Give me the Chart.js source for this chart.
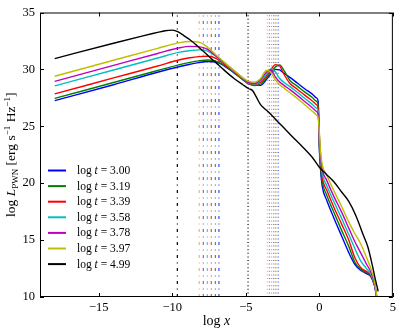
<!DOCTYPE html>
<html><head><meta charset="utf-8">
<script src="https://cdn.jsdelivr.net/npm/chart.js@4/dist/chart.umd.min.js"></script>
<style>html,body{margin:0;padding:0;background:#fff}</style>
</head><body>
<canvas id="c" width="399" height="332" style="width:399px;height:332px;display:block"></canvas>
<script>
const xTicks = [-15, -10, -5, 0, 5];
const yTicks = [10, 15, 20, 25, 30, 35];
const tLabels = ['3.00', '3.19', '3.39', '3.58', '3.78', '3.97', '4.99'];
const seriesColors = ['#0000ff', '#008000', '#ff0000', '#00bfbf', '#bf00bf', '#bfbf00', '#000000'];
const vlineColors = ['rgba(0,0,255,0.75)', 'rgba(0,128,0,0.75)', 'rgba(255,0,0,0.75)', 'rgba(0,191,191,0.75)', 'rgba(191,0,191,0.75)', 'rgba(191,191,0,0.75)', '#000000'];

// shared log x grid for the colored curves
const xGrid = [-18, -14, -11, -9.5, -8.8, -8.2, -7.6, -7.0, -6.4, -5.8, -5.2, -4.8, -4.4, -4.0, -3.6, -3.3, -3.0, -2.7, -2.4, -2.0, -1.5, -1.0, -0.5, -0.2, -0.08, 0.0, 0.08, 0.2, 0.5, 1.0, 1.5, 2.0, 2.4, 2.8, 3.2, 3.5, 3.75, 3.95];
const yT300 = [27.25, 28.65, 29.75, 30.25, 30.45, 30.6, 30.7, 30.65, 30.25, 29.7, 29.1, 28.75, 28.6, 28.6, 29.1, 29.6, 30.0, 29.95, 29.65, 29.3, 28.8, 28.3, 27.85, 27.5, 27.2, 23.0, 21.2, 19.7, 18.5, 16.9, 15.4, 13.9, 12.9, 12.35, 12.05, 11.8, 11.0, 9.6];
const yT319 = [27.45, 28.85, 29.9, 30.42, 30.62, 30.75, 30.82, 30.7, 30.3, 29.72, 29.1, 28.72, 28.58, 28.72, 29.25, 29.75, 30.2, 30.4, 29.9, 29.03, 28.53, 28.02, 27.55, 27.2, 26.9, 23.3, 21.5, 20.1, 18.95, 17.4, 15.9, 14.45, 13.1, 12.45, 12.15, 11.85, 11.05, 9.6];
const yT339 = [27.85, 29.25, 30.3, 30.85, 31.02, 31.12, 31.15, 30.95, 30.4, 29.78, 29.15, 28.75, 28.68, 28.88, 29.42, 29.95, 30.42, 30.3, 29.55, 28.76, 28.26, 27.74, 27.25, 26.9, 26.6, 23.6, 21.85, 20.45, 19.4, 17.85, 16.45, 15.0, 13.5, 12.6, 12.25, 11.9, 11.1, 9.6];
const yT358 = [28.55, 29.95, 31.0, 31.52, 31.65, 31.72, 31.6, 31.1, 30.5, 29.85, 29.2, 28.8, 28.72, 28.98, 29.6, 30.05, 29.8, 29.2, 28.85, 28.49, 27.99, 27.46, 26.95, 26.6, 26.33, 23.9, 22.15, 20.85, 19.8, 18.35, 16.95, 15.5, 14.3, 13.2, 12.5, 12.0, 11.15, 9.6];
const yT378 = [28.95, 30.35, 31.4, 31.9, 32.02, 32.0, 31.75, 31.15, 30.52, 29.87, 29.22, 28.85, 28.78, 29.08, 29.78, 29.95, 29.35, 28.9, 28.6, 28.22, 27.72, 27.18, 26.65, 26.3, 26.04, 24.2, 22.5, 21.2, 20.25, 18.8, 17.5, 16.05, 14.9, 13.9, 12.9, 12.2, 11.25, 9.6];
const yT397 = [29.4, 30.8, 31.85, 32.35, 32.45, 32.4, 31.95, 31.25, 30.55, 29.9, 29.25, 28.95, 28.88, 29.2, 29.9, 29.75, 29.1, 28.65, 28.35, 27.95, 27.45, 26.9, 26.35, 26.0, 25.75, 24.5, 22.8, 21.6, 20.7, 19.3, 18.0, 16.6, 15.6, 14.7, 13.5, 12.5, 11.4, 9.6];
const xT499 = [-18, -14, -12, -11, -10.5, -10, -9.6, -9.2, -8.8, -8.2, -7.6, -7.0, -6.4, -5.8, -5.2, -4.8, -4.55, -4.3, -4.0, -3.5, -3.0, -2.0, -1.0, -0.5, 0.0, 0.5, 1.0, 1.5, 2.0, 2.5, 3.0, 3.3, 3.6, 3.8, 4.0];
const yT499 = [30.95, 32.3, 32.95, 33.25, 33.4, 33.45, 33.3, 32.95, 32.6, 31.95, 31.25, 30.55, 29.85, 29.2, 28.65, 28.3, 28.15, 27.6, 26.9, 26.3, 25.65, 24.3, 23.0, 22.3, 21.4, 20.75, 20.1, 19.25, 18.4, 17.1, 15.4, 14.4, 12.8, 11.6, 10.5];
// characteristic frequencies (vertical lines), same series order
const xBreakLow = [-6.83, -7.07, -7.35, -7.62, -7.89, -8.17, -9.66];
const xBreakHigh = [-2.8, -2.96, -3.1, -3.25, -3.4, -3.53, -4.85];

const FONT = '"Liberation Serif", "Times New Roman", serif';
const curveY = [yT300, yT319, yT339, yT358, yT378, yT397, yT499];
const curveX = [xGrid, xGrid, xGrid, xGrid, xGrid, xGrid, xT499];

const datasets = [];
for (let i = 0; i < 7; i++) {
  datasets.push({
    label: 'log t = ' + tLabels[i],
    data: curveX[i].map((x, k) => ({x: x, y: curveY[i][k]})),
    borderColor: seriesColors[i], borderWidth: 1.4,
    cubicInterpolationMode: 'monotone', pointRadius: 0, fill: false,
    order: 6 - i
  });
}
for (let i = 0; i < 7; i++) {
  datasets.push({
    label: 'lo' + i,
    data: [{x: xBreakLow[i], y: 10}, {x: xBreakLow[i], y: 35}],
    borderColor: vlineColors[i], borderWidth: 1.2, borderDash: [3, 4.5, 1, 4.5],
    pointRadius: 0, fill: false, order: 20
  });
  datasets.push({
    label: 'hi' + i,
    data: [{x: xBreakHigh[i], y: 10}, {x: xBreakHigh[i], y: 35}],
    borderColor: vlineColors[i], borderWidth: 1.2, borderDash: [1, 2.6],
    pointRadius: 0, fill: false, order: 20
  });
}

function rich(ctx, parts, x, y, align) {
  let w = 0;
  parts.forEach(p => { ctx.font = p.f; p.w = ctx.measureText(p.t).width; w += p.w; });
  let cx = align === 'center' ? x - w / 2 : x;
  parts.forEach(p => { ctx.font = p.f; ctx.fillText(p.t, cx, y + (p.dy || 0)); cx += p.w; });
}

const decor = {
  id: 'decor',
  afterDraw(chart) {
    const ctx = chart.ctx, a = chart.chartArea;
    const xs = chart.scales.x, ys = chart.scales.y;
    ctx.save();
    ctx.strokeStyle = '#000'; ctx.lineWidth = 1;
    ctx.strokeRect(a.left + 0.5, a.top + 0.5, a.right - a.left - 1, a.bottom - a.top - 1);
    const tl = 4;
    ctx.beginPath();
    xTicks.forEach(v => {
      const px = Math.round(xs.getPixelForValue(v)) + 0.5;
      ctx.moveTo(px, a.bottom); ctx.lineTo(px, a.bottom - tl);
      ctx.moveTo(px, a.top); ctx.lineTo(px, a.top + tl);
    });
    yTicks.forEach(v => {
      const py = Math.round(ys.getPixelForValue(v)) + 0.5;
      ctx.moveTo(a.left, py); ctx.lineTo(a.left + tl, py);
      ctx.moveTo(a.right, py); ctx.lineTo(a.right - tl, py);
    });
    ctx.stroke();

    // legend (inside axes, lower left)
    ctx.fillStyle = '#000';
    ctx.textBaseline = 'middle';
    const lx = a.left + 8, ly0 = a.top + 158, step = 15.6;
    for (let i = 0; i < 7; i++) {
      const y = ly0 + i * step;
      ctx.strokeStyle = seriesColors[i]; ctx.lineWidth = 2;
      ctx.beginPath(); ctx.moveTo(lx, y); ctx.lineTo(lx + 18, y); ctx.stroke();
      rich(ctx, [
        {t: 'log ', f: '11.5px ' + FONT},
        {t: 't', f: 'italic 11.5px ' + FONT},
        {t: ' = ' + tLabels[i], f: '11.5px ' + FONT}
      ], lx + 29, y + 0.5, 'left');
    }

    // x axis title
    ctx.textBaseline = 'alphabetic';
    rich(ctx, [
      {t: 'log ', f: '14px ' + FONT},
      {t: 'x', f: 'italic 14px ' + FONT}
    ], (a.left + a.right) / 2, 325, 'center');

    // y axis title
    ctx.translate(15, (a.top + a.bottom) / 2);
    ctx.rotate(-Math.PI / 2);
    rich(ctx, [
      {t: 'log ', f: '13.5px ' + FONT},
      {t: 'L', f: 'italic 13.5px ' + FONT},
      {t: 'PWN', f: '9px ' + FONT, dy: 3},
      {t: ' [erg s', f: '13.5px ' + FONT},
      {t: '\u22121', f: '9px ' + FONT, dy: -5},
      {t: ' Hz', f: '13.5px ' + FONT},
      {t: '\u22121', f: '9px ' + FONT, dy: -5},
      {t: ']', f: '13.5px ' + FONT}
    ], 0, 0, 'center');
    ctx.restore();
  }
};

const fmt = v => v < 0 ? '\u2212' + Math.abs(v) : String(v);

new Chart(document.getElementById('c'), {
  type: 'line',
  data: {datasets: datasets},
  options: {
    responsive: false, animation: false, devicePixelRatio: 1,
    layout: {padding: {top: 6, right: 6, left: 0, bottom: 0}},
    plugins: {legend: {display: false}, tooltip: {enabled: false}},
    elements: {point: {radius: 0}},
    scales: {
      x: {
        type: 'linear', min: -19, max: 5,
        afterBuildTicks: s => { s.ticks = xTicks.map(v => ({value: v})); },
        afterFit: s => { s.height = 35; },
        ticks: {callback: fmt, color: '#000', font: {family: FONT, size: 12.5}, padding: 3, maxRotation: 0, autoSkip: false},
        grid: {display: false, drawTicks: false},
        border: {display: false}
      },
      y: {
        type: 'linear', min: 10, max: 35,
        afterBuildTicks: s => { s.ticks = yTicks.map(v => ({value: v})); },
        afterFit: s => { s.width = 40; },
        ticks: {callback: fmt, color: '#000', font: {family: FONT, size: 12.5}, padding: 5, autoSkip: false},
        grid: {display: false, drawTicks: false},
        border: {display: false}
      }
    }
  },
  plugins: [decor]
});
</script>
</body></html>
